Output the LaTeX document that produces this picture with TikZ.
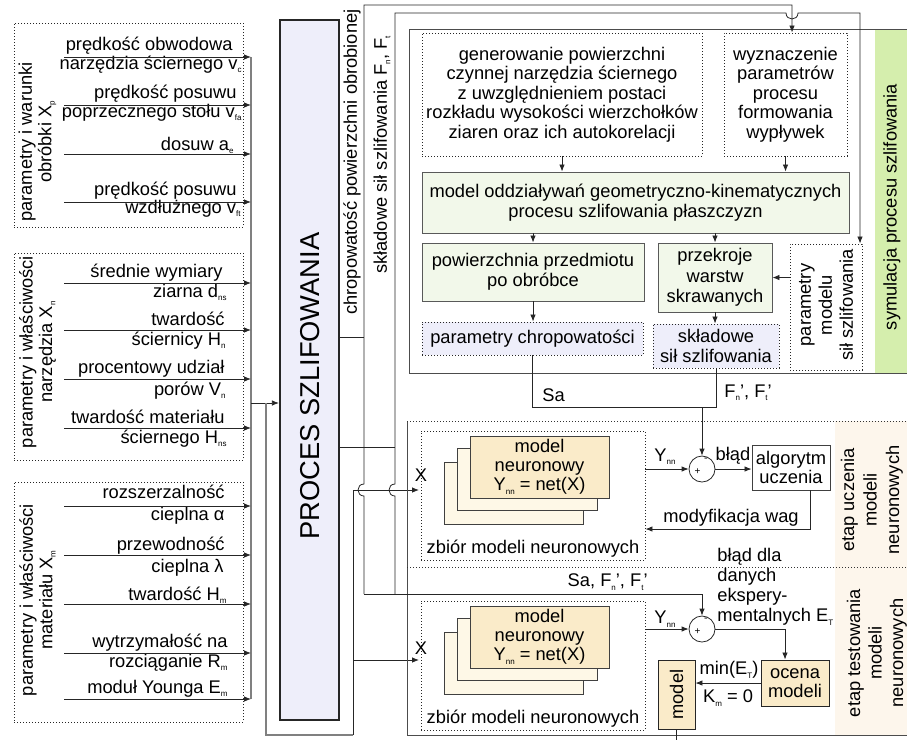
\documentclass[tikz,border=0pt]{standalone}
\usepackage{fontspec}
\setmainfont{Liberation Sans}
\usetikzlibrary{arrows.meta}
\definecolor{lineg}{HTML}{808080}
\definecolor{lav}{HTML}{EEEEFA}
\definecolor{grn}{HTML}{F2F8EA}
\definecolor{grnstrip}{HTML}{D5EEAD}
\definecolor{nnfront}{HTML}{FAEBC9}
\definecolor{nnback}{HTML}{FEF8E7}
\definecolor{beige}{HTML}{FDF6EC}
\newcommand\lsub[1]{\raisebox{-0.35ex}{\fontsize{8}{8}\selectfont #1}}
\newcommand\nf{\fontsize{18.3}{19.5}\selectfont}
\begin{document}
\begin{tikzpicture}[x=1pt,y=-1pt,font=\nf,line width=0.8pt,
  >={Latex[length=7pt,width=5.5pt]},
  txt/.style={inner sep=0pt,align=center},
  dotbox/.style={draw=black!85,dash pattern=on 0.9pt off 2.1pt,line width=0.9pt,inner sep=0pt,align=center},
  gbox/.style={draw=black!65,fill=grn,line width=0.9pt,inner sep=0pt,align=center},
  lavbox/.style={dotbox,fill=lav},
  nnbox/.style={draw=black!75,line width=0.9pt,inner sep=0pt,align=center},
  plainbox/.style={draw=black!75,line width=0.9pt,inner sep=0pt,align=center},
  glin/.style={draw=lineg,line width=1.3pt},
  wire/.style={draw=black!85,line width=0.8pt},
  bus/.style={draw=lineg,line width=1.6pt},
  lblr/.style={inner sep=0pt,anchor=base east}]
\useasboundingbox (0,0) rectangle (907,740);

% ---------- input parameter groups ----------
\node[dotbox,minimum width=229pt,minimum height=204pt] (gp) at (128.5,125) {};
\node[dotbox,minimum width=229pt,minimum height=207pt] (gn) at (128.5,356.5) {};
\node[dotbox,minimum width=229pt,minimum height=240pt] (gm) at (128.5,602) {};
\node[txt,rotate=90] (gpl) at (37.5,142) {parametry i warunki\\obróbki X\lsub{p}};
\node[txt,rotate=90] (gnl) at (37.5,352) {parametry i właściwości\\narzędzia X\lsub{n}};
\node[txt,rotate=90] (gml) at (37.5,600) {parametry i właściwości\\materiału X\lsub{m}};

\node[lblr] (p1a) at (233,50) {prędkość obwodowa};
\node[lblr] (p1b) at (242,69) {narzędzia ściernego v\lsub{c}};
\node[lblr] (p2a) at (237,98) {prędkość posuwu};
\node[lblr] (p2b) at (242,117) {poprzecznego stołu v\lsub{fa}};
\node[lblr] (p3a) at (234,150) {dosuw a\lsub{e}};
\node[lblr] (p4a) at (237,195) {prędkość posuwu};
\node[lblr] (p4b) at (241,213) {wzdłużnego v\lsub{ft}};

\node[lblr] (n1a) at (223,277) {średnie wymiary};
\node[lblr] (n1b) at (227,297) {ziarna d\lsub{ns}};
\node[lblr] (n2a) at (225,325) {twardość};
\node[lblr] (n2b) at (226,345) {ściernicy H\lsub{n}};
\node[lblr] (n3a) at (225,373) {procentowy udział};
\node[lblr] (n3b) at (226,395) {porów V\lsub{n}};
\node[lblr] (n4a) at (225,423) {twardość materiału};
\node[lblr] (n4b) at (227,443) {ściernego H\lsub{ns}};

\node[lblr] (m1a) at (225,498) {rozszerzalność};
\node[lblr] (m1b) at (225,520) {cieplna α};
\node[lblr] (m2a) at (225,550) {przewodność};
\node[lblr] (m2b) at (224,572) {cieplna λ};
\node[lblr] (m3a) at (227,600) {twardość H\lsub{m}};
\node[lblr] (m4a) at (228,647) {wytrzymałość na};
\node[lblr] (m4b) at (228,667) {rozciąganie R\lsub{m}};
\node[lblr] (m5a) at (228,693) {moduł Younga E\lsub{m}};

% collecting bus of all inputs
\coordinate (busT) at (251,57);
\coordinate (busB) at (251,699);
\draw[bus] (busT) -- (busB);
\foreach \yy [count=\i] in {57,105,154,202,283,330,379,428,506,555,604,653,699}{
  \coordinate (in\i) at (64,\yy);
  \coordinate (bu\i) at (251,\yy);
  \draw[wire,->] (in\i) -- (bu\i);
}

% ---------- grinding process ----------
\node[draw=black!85,line width=2.2pt,fill=lav,minimum width=59pt,minimum height=700pt,inner sep=0pt] (proc) at (309.5,370) {};
\node[txt,rotate=90,font=\fontsize{27.3}{30}\selectfont] (procl) at (310,386) {PROCES SZLIFOWANIA};
\coordinate (busP) at (251,403);
\draw[wire,->] (busP) -- (proc.west |- busP);

% inputs X passed on to both neural model sets
\coordinate (rA) at (266,403);
\coordinate (rB) at (353,735);
\coordinate (xinA) at (419,490);
\coordinate (xinB) at (419,660);
\draw[glin] (rA) -- (266,735) -- (rB);
\draw[wire] (rB) -- (353,490);
\draw[wire,->] (353,490) -- (xinA);
\draw[wire,->] (353,660) -- (xinB);

% measured outputs of the process
\coordinate (y337) at (0,337);
\coordinate (y447) at (0,447);
\coordinate (t1) at (792,5);
\coordinate (t2) at (860,13);
\node[txt,rotate=90] (lchr) at (352,162) {chropowatość powierzchni obrobionej};
\node[txt,rotate=90] (lskl) at (382,155) {składowe sił szlifowania F\lsub{n}, F\lsub{t}};
\draw[wire] (proc.east |- y337) -- (364,337);
\draw[wire] (proc.east |- y447) -- (395,447);

% ---------- simulation block ----------
\fill[grnstrip] (875,29) rectangle (907,373);
\draw[draw=black!70,line width=0.9pt] (907,29) -- (409,29) -- (409,373) -- (907,373);
\node[txt,rotate=90] (lsym) at (892,207) {symulacja procesu szlifowania};

\node[dotbox,minimum width=280pt,minimum height=123pt] (gen) at (562,94.5) {generowanie powierzchni\\czynnej narzędzia ściernego\\z uwzględnieniem postaci\\rozkładu wysokości wierzchołków\\ziaren oraz ich autokorelacji};
\node[dotbox,minimum width=123pt,minimum height=123pt] (wyz) at (785.5,94.5) {wyznaczenie\\parametrów\\procesu\\formowania\\wypływek};
\node[gbox,minimum width=427pt,minimum height=61pt] (mgk) at (635.5,202.5) {model oddziaływań geometryczno-kinematycznych\\procesu szlifowania płaszczyzn};
\node[gbox,minimum width=222pt,minimum height=58pt] (pow) at (533,272) {powierzchnia przedmiotu\\po obróbce};
\node[gbox,minimum width=114pt,minimum height=69pt,font=\fontsize{18.3}{20.5}\selectfont] (prz) at (715,277.5) {przekroje\\warstw\\skrawanych};
\node[dotbox,fill=white,minimum width=72pt,minimum height=126pt] (pms) at (826,307) {};
\node[txt,rotate=90,font=\fontsize{18.3}{21}\selectfont] (pmsl) at (826,305) {parametry\\modelu\\sił szlifowania};
\node[lavbox,minimum width=221pt,minimum height=33pt] (pch) at (532.5,338.5) {parametry chropowatości};
\node[lavbox,minimum width=126pt,minimum height=44pt] (skl) at (716,346) {składowe\\sił szlifowania};

\draw[wire,->] (gen.south) -- (gen.south |- mgk.north);
\draw[wire,->] (wyz.south) -- (wyz.south |- mgk.north);
\draw[wire,->] (pow.north |- mgk.south) -- (pow.north);
\draw[wire,->] (prz.north |- mgk.south) -- (prz.north);
\draw[wire,->] (pow.south) -- (pow.south |- pch.north);
\draw[wire,->] (prz.south) -- (prz.south |- skl.north);
\draw[wire,->] (pms.west |- prz.east) -- (prz.east);

% process outputs routed to the simulation and to the test comparator
\draw[wire,->] (364,594) -- (364,496) .. controls (356,496) and (356,484) .. (364,484)
  -- (364,5) -- (t1) -- (t1 |- wyz.north);
\draw[wire,->] (395,594) -- (395,496) .. controls (387,496) and (387,484) .. (395,484)
  -- (395,13) -- (786,13) .. controls (786,21) and (798,21) .. (798,13) -- (t2) -- (t2 |- pms.north);

% ---------- neural model stages ----------
\fill[beige] (835,421) rectangle (907,735);
\draw[draw=black!70,line width=1pt] (407,421) -- (407,735) -- (907,735);
\draw[draw=black!80,dash pattern=on 0.9pt off 2.1pt,line width=0.9pt] (407,421) -- (907,421);
\draw[draw=black!80,dash pattern=on 0.9pt off 2.1pt,line width=0.9pt] (407,567) -- (907,567);
\node[txt,rotate=90,font=\fontsize{18.3}{22.5}\selectfont] (lucz) at (872,500) {etap uczenia\\modeli\\neuronowych};
\node[txt,rotate=90,font=\fontsize{18.3}{21.5}\selectfont] (ltst) at (877,653) {etap testowania\\modeli\\neuronowych};

% learning stage
\node[dotbox,minimum width=224pt,minimum height=129pt] (setA) at (533,495.5) {};
\node[nnbox,fill=nnback,minimum width=139pt,minimum height=62pt] (nnA3) at (513.5,493) {};
\node[nnbox,fill=nnback,minimum width=140pt,minimum height=62pt] (nnA2) at (527,479) {};
\node[nnbox,fill=nnfront,minimum width=139pt,minimum height=62pt,font=\fontsize{18.3}{19}\selectfont] (nnA1) at (539.5,467) {model\\neuronowy\\Y\lsub{nn} = net(X)};
\node[txt] (xA) at (421,475) {X};
\node[txt] (zA) at (533,549) {zbiór modeli neuronowych};

\node[circle,draw=black!85,line width=0.8pt,minimum size=26pt,inner sep=0pt] (c1) at (702,469) {};
\node[inner sep=0pt,font=\fontsize{10}{10}\selectfont] (c1p) at (697.5,471.5) {+};
\node[inner sep=0pt,font=\fontsize{11}{11}\selectfont] (c1m) at (706,460) {-};
\coordinate (jn) at (702,407);
\draw[wire] (pch.south) -- (pch.south |- jn) -- (skl.south |- jn) -- (skl.south);
\draw[wire,->] (jn) -- (c1.north);
\node[txt,anchor=west] (lSa) at (542,395) {Sa};
\node[txt,anchor=west] (lFF) at (724,393) {F\lsub{n}', F\lsub{t}'};

\draw[wire,->] (setA.east |- c1) -- (c1.west);
\node[txt] (yA) at (665,457) {Y\lsub{nn}};
\node[plainbox,fill=white,minimum width=78pt,minimum height=45pt] (alg) at (791,467.5) {algorytm\\uczenia};
\draw[wire,->] (c1.east) -- (alg.west |- c1);
\node[txt] (lerr1) at (733,456) {błąd};
\coordinate (mw) at (810,529);
\draw[wire,->] (mw |- alg.south) -- (mw) -- (setA.east |- mw);
\node[txt] (lmw) at (731,518) {modyfikacja wag};

% testing stage
\node[dotbox,minimum width=224pt,minimum height=129pt] (setB) at (533,665.5) {};
\node[nnbox,fill=nnback,minimum width=139pt,minimum height=62pt] (nnB3) at (513.5,663) {};
\node[nnbox,fill=nnback,minimum width=140pt,minimum height=62pt] (nnB2) at (527,649) {};
\node[nnbox,fill=nnfront,minimum width=139pt,minimum height=62pt,font=\fontsize{18.3}{19}\selectfont] (nnB1) at (539.5,637) {model\\neuronowy\\Y\lsub{nn} = net(X)};
\node[txt] (xB) at (421,648) {X};
\node[txt] (zB) at (533,719) {zbiór modeli neuronowych};

\node[circle,draw=black!85,line width=0.8pt,minimum size=26pt,inner sep=0pt] (c2) at (702,629) {};
\node[inner sep=0pt,font=\fontsize{10}{10}\selectfont] (c2p) at (697.5,631.5) {+};
\node[inner sep=0pt,font=\fontsize{11}{11}\selectfont] (c2m) at (706,620) {-};
\coordinate (y594) at (0,594);
\draw[wire,->] (364,594) -- (c2.north |- y594) -- (c2.north);
\node[txt,anchor=east] (lSF) at (648,582) {Sa, F\lsub{n}', F\lsub{t}'};
\draw[wire,->] (setB.east |- c2) -- (c2.west);
\node[txt] (yB) at (665,619) {Y\lsub{nn}};
\node[txt,anchor=west,align=left,font=\fontsize{18.3}{20}\selectfont] (lerr2) at (717,587) {błąd dla\\danych\\ekspery-\\mentalnych E\lsub{T}};

\node[plainbox,fill=nnfront,draw=black!85,minimum width=68pt,minimum height=46pt] (oce) at (795,683) {ocena\\modeli};
\coordinate (ok) at (785,629);
\draw[wire,->] (c2.east) -- (ok) -- (ok |- oce.north);
\node[plainbox,fill=nnfront,draw=black!85,minimum width=37pt,minimum height=69pt] (mdl) at (676.5,694.5) {};
\node[txt,rotate=90] (mdll) at (676.5,694.5) {model};
\draw[wire,->] (oce.west) -- (mdl.east |- oce.west);
\node[txt] (lmin) at (729,670) {min(E\lsub{T})};
\node[txt] (lkm) at (728,698) {K\lsub{m} = 0};
\coordinate (mo) at (676.5,740);
\draw[wire] (mdl.south) -- (mo);
\end{tikzpicture}
\end{document}
